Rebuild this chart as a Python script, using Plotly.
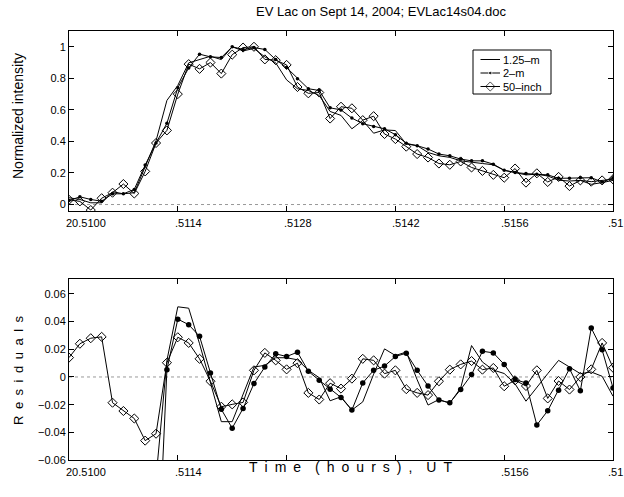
import plotly.graph_objects as go

# ---------------- data ----------------
times = [20.51000, 20.51014, 20.51028, 20.51042, 20.51056, 20.51070, 20.51084,
         20.51098, 20.51112, 20.51126, 20.51140, 20.51154, 20.51168, 20.51182,
         20.51196, 20.51210, 20.51224, 20.51238, 20.51252, 20.51266, 20.51280,
         20.51294, 20.51308, 20.51322, 20.51336, 20.51350, 20.51364, 20.51378,
         20.51392, 20.51406, 20.51420, 20.51434, 20.51448, 20.51462, 20.51476,
         20.51490, 20.51504, 20.51518, 20.51532, 20.51546, 20.51560, 20.51574,
         20.51588, 20.51602, 20.51616, 20.51630, 20.51644, 20.51658, 20.51672,
         20.51686, 20.51700]

int_125m = [0.043, 0.032, 0.011, 0.011, 0.081, 0.068, 0.075, 0.234, 0.404, 0.660,
            0.755, 0.898, 0.919, 0.940, 0.919, 1.000, 0.974, 0.989, 0.936, 0.898,
            0.790, 0.734, 0.723, 0.691, 0.590, 0.565, 0.480, 0.533, 0.452, 0.473,
            0.469, 0.384, 0.373, 0.330, 0.309, 0.299, 0.277, 0.267, 0.260, 0.252,
            0.217, 0.203, 0.188, 0.192, 0.181, 0.154, 0.149, 0.153, 0.128, 0.139,
            0.153]

int_2m = [0.025, 0.049, 0.032, 0.021, 0.068, 0.068, 0.096, 0.250, 0.390, 0.515,
          0.740, 0.866, 0.953, 0.936, 0.932, 1.000, 0.983, 0.995, 0.983, 0.919,
          0.868, 0.798, 0.734, 0.723, 0.613, 0.600, 0.548, 0.512, 0.495, 0.480,
          0.443, 0.388, 0.373, 0.352, 0.320, 0.309, 0.288, 0.277, 0.277, 0.256,
          0.217, 0.203, 0.196, 0.192, 0.188, 0.166, 0.166, 0.170, 0.170, 0.143,
          0.170]

int_50in = [0.030, 0.020, -0.035, 0.040, 0.075, 0.130, 0.070, 0.210, 0.390, 0.470,
            0.700, 0.890, 0.860, 0.900, 0.830, 0.950, 0.995, 1.000, 0.920, 0.915,
            0.885, 0.745, 0.705, 0.710, 0.545, 0.620, 0.610, 0.535, 0.560, 0.447,
            0.415, 0.367, 0.320, 0.298, 0.260, 0.252, 0.273, 0.235, 0.213, 0.188,
            0.170, 0.228, 0.139, 0.198, 0.143, 0.175, 0.117, 0.153, 0.145, 0.153,
            0.160]

res_125m = [None, None, None, None, None, None, None, None, -0.073, 0.012,
            0.0507, 0.0497, 0.024, -0.005, -0.0323, -0.0323, -0.013, 0.0072, 0.0084, 0.0139,
            0.0139, 0.0124, 0.0048, -0.0005, -0.0172, -0.0143, -0.0239, -0.018, 0.002, 0.0203,
            0.0155, 0.018, -0.002, -0.0203, -0.0163, -0.019, -0.008, 0.0227, 0.0108, 0.005,
            0.0025, -0.005, -0.0175, -0.0072, 0.0024, 0.012, 0.0072, 0.0024, 0.0036, 0.0005,
            -0.0139]

res_2m = [None, None, None, None, None, None, None, None, -0.17, 0.0053,
          0.0418, 0.0378, 0.0294, 0.0029, -0.0234, -0.037, -0.0227, -0.0048, 0.0072, 0.0167,
          0.0148, 0.0179, 0.0041, -0.0024, -0.0088, -0.0148, -0.0239, -0.0043, 0.0048, 0.0079,
          0.0148, 0.0172, 0.0048, -0.0065, -0.0167, -0.0186, -0.0091, 0.0017, 0.0186, 0.0174,
          0.0091, -0.0019, -0.0043, -0.0347, -0.0244, -0.0096, 0.006, -0.010, 0.0354, 0.0196,
          -0.0079]

res_50in = [0.014, 0.024, 0.028, 0.029, -0.0186, -0.0246, -0.030, -0.046, -0.041, 0.0103,
            0.0287, 0.0246, 0.0131, -0.0031, -0.0215, -0.0198, -0.0184, 0.0048, 0.0174, 0.012,
            0.0055, 0.010, -0.0115, -0.0163, -0.0045, -0.0084, -0.0012, 0.0131, 0.012, 0.0024,
            0.0048, -0.0088, -0.0115, -0.0131, -0.0031, 0.0053, 0.0091, 0.0115, 0.0053, 0.0065,
            -0.0067, -0.0024, -0.0065, 0.0048, -0.0155, -0.0029, -0.0091, 0.0, 0.0055, 0.0246,
            0.0067]

x_tick_vals = [20.5100, 20.5114, 20.5128, 20.5142, 20.5156, 20.5170]
x_tick_text_top = ["20.5100", ".5114", ".5128", ".5142", ".5156", ".51"]
x_tick_text_bot = ["20.5100", ".5114", "", "", ".5156", ".51"]
y_top_ticks = [0, 0.2, 0.4, 0.6, 0.8, 1]
y_bot_ticks = [-0.06, -0.04, -0.02, 0, 0.02, 0.04, 0.06]

names = ["1.25\u2013m", "2\u2013m", "50\u2013inch"]

FONT = "Liberation Sans, Arial, Helvetica, sans-serif"
EN = "\u2002"
EM = "\u2003"

# ---------------- figure geometry (pixels) ----------------
W, H = 624, 497
L, R, T, B = 69, 11, 31, 37
PW, PH = W - L - R, H - T - B


def px_x(px):
    return (px - L) / PW


def px_y(py):
    return (H - B - py) / PH


fig = go.Figure()

line_style = dict(color="black", width=1)
dot_top = dict(symbol="circle", size=3.5, color="black")
dot_bot = dict(symbol="circle", size=5.5, color="black")
dia = dict(symbol="diamond-open", size=7, color="black", line=dict(width=1, color="black"))

# top panel
fig.add_trace(go.Scatter(x=times, y=int_125m, mode="lines", name=names[0],
                         line=line_style, xaxis="x", yaxis="y"))
fig.add_trace(go.Scatter(x=times, y=int_2m, mode="lines+markers", name=names[1],
                         line=line_style, marker=dot_top, xaxis="x", yaxis="y"))
fig.add_trace(go.Scatter(x=times, y=int_50in, mode="lines+markers", name=names[2],
                         line=line_style, marker=dia, xaxis="x", yaxis="y"))

# bottom panel
fig.add_trace(go.Scatter(x=times, y=res_125m, mode="lines", name=names[0],
                         line=line_style, xaxis="x2", yaxis="y2"))
fig.add_trace(go.Scatter(x=times, y=res_2m, mode="lines+markers", name=names[1],
                         line=line_style, marker=dot_bot, xaxis="x2", yaxis="y2"))
fig.add_trace(go.Scatter(x=times, y=res_50in, mode="lines+markers", name=names[2],
                         line=line_style, marker=dia, xaxis="x2", yaxis="y2"))

# ---------------- legend (own small hidden axis pair, pixel units) ----------------
leg_box = (473, 50, 551, 94)          # x0, y0, x1, y1 in page pixels
leg_rows = [59.5, 73, 86.5]
leg_line_x = (480.5, 500)
leg_text_x = 501
leg_mark_x = (leg_line_x[0] + leg_line_x[1]) / 2

for i, nm in enumerate(names):
    mk = None
    mode = "lines"
    if i == 1:
        mk = dict(dot_top)
        mode = "lines+markers"
    elif i == 2:
        mk = dict(dia)
        mode = "lines+markers"
    if mk is not None:
        mk["size"] = [0, mk["size"], 0]
    fig.add_trace(go.Scatter(x=[leg_line_x[0], leg_mark_x, leg_line_x[1]],
                             y=[leg_rows[i]] * 3, mode=mode, line=line_style, marker=mk,
                             xaxis="x3", yaxis="y3", hoverinfo="skip", cliponaxis=False))

axis_common = dict(showline=True, linecolor="black", linewidth=1, mirror="ticks",
                   ticks="inside", ticklen=5, tickcolor="black", tickwidth=1,
                   showgrid=False, zeroline=False,
                   tickfont=dict(family=FONT, size=11, color="black"))

top_dom = [px_y(211), 1]
bot_dom = [0, px_y(279)]

fig.update_layout(
    width=W, height=H,
    margin=dict(l=L, r=R, t=T, b=B),
    paper_bgcolor="white", plot_bgcolor="rgba(0,0,0,0)",
    font=dict(family=FONT, size=11, color="black"),
    showlegend=False,
    xaxis=dict(domain=[0, 1], range=[20.5100, 20.5170], anchor="y",
               tickvals=x_tick_vals, showticklabels=False, **axis_common),
    yaxis=dict(domain=top_dom, range=[-0.041, 1.1], anchor="x",
               tickvals=y_top_ticks, **axis_common),
    xaxis2=dict(domain=[0, 1], range=[20.5100, 20.5170], anchor="y2",
                tickvals=x_tick_vals, showticklabels=False, **axis_common),
    yaxis2=dict(domain=bot_dom, range=[-0.06, 0.0708], anchor="x2",
                tickvals=y_bot_ticks, **axis_common),
    xaxis3=dict(domain=[px_x(leg_box[0]), px_x(leg_box[2])],
                range=[leg_box[0], leg_box[2]], anchor="y3", visible=False,
                fixedrange=True),
    yaxis3=dict(domain=[px_y(leg_box[3]), px_y(leg_box[1])],
                range=[leg_box[3], leg_box[1]], anchor="x3", visible=False,
                fixedrange=True),
)

shapes = []
for yref, xref in [("y", "x domain"), ("y2", "x2 domain")]:
    shapes.append(dict(type="line", xref=xref, x0=0, x1=1, yref=yref, y0=0, y1=0,
                       line=dict(color="#999999", width=1, dash="dot"), layer="below"))
shapes.append(dict(type="rect", xref="paper", yref="paper",
                   x0=px_x(leg_box[0]), x1=px_x(leg_box[2]),
                   y0=px_y(leg_box[3]), y1=px_y(leg_box[1]),
                   line=dict(color="black", width=1), fillcolor="rgba(0,0,0,0)"))
fig.update_layout(shapes=shapes)

annotations = []
for xr, yr, labels in [("x", "y domain", x_tick_text_top), ("x2", "y2 domain", x_tick_text_bot)]:
    for v, t in zip(x_tick_vals, labels):
        if not t:
            continue
        shift = -7 if t == ".51" else -5
        annotations.append(dict(x=v, y=0, xref=xr, yref=yr, text=t, showarrow=False,
                                xanchor="left", yanchor="top", xshift=shift, yshift=-4,
                                font=dict(family=FONT, size=11, color="black")))

for i, nm in enumerate(names):
    annotations.append(dict(x=px_x(leg_text_x), y=px_y(leg_rows[i]), xref="paper", yref="paper",
                            text=nm, showarrow=False, xanchor="left", yanchor="middle",
                            font=dict(family=FONT, size=11, color="black")))

annotations.append(dict(x=px_x(381), y=px_y(11), xref="paper", yref="paper",
                        text="EV Lac on Sept 14, 2004; EVLac14s04.doc", showarrow=False,
                        xanchor="center", yanchor="middle",
                        font=dict(family=FONT, size=13, color="black")))
annotations.append(dict(x=px_x(18), y=px_y(116), xref="paper", yref="paper",
                        text="Normalized intensity", showarrow=False, textangle=-90,
                        xanchor="center", yanchor="middle",
                        font=dict(family=FONT, size=14, color="black")))
annotations.append(dict(x=px_x(18), y=px_y(370), xref="paper", yref="paper",
                        text=EN.join("Residuals"), showarrow=False, textangle=-90,
                        xanchor="center", yanchor="middle",
                        font=dict(family=FONT, size=13, color="black")))
xlabel = EM.join([EN.join("Time"), EN.join("(hours),"), EN.join("UT")])
annotations.append(dict(x=px_x(350), y=px_y(467), xref="paper", yref="paper",
                        text=xlabel, showarrow=False,
                        xanchor="center", yanchor="middle",
                        font=dict(family=FONT, size=14, color="black")))
fig.update_layout(annotations=annotations)

fig.write_html("out.html", config={"displayModeBar": False},
               post_script="document.body.style.margin='0';document.body.style.overflow='hidden';")
